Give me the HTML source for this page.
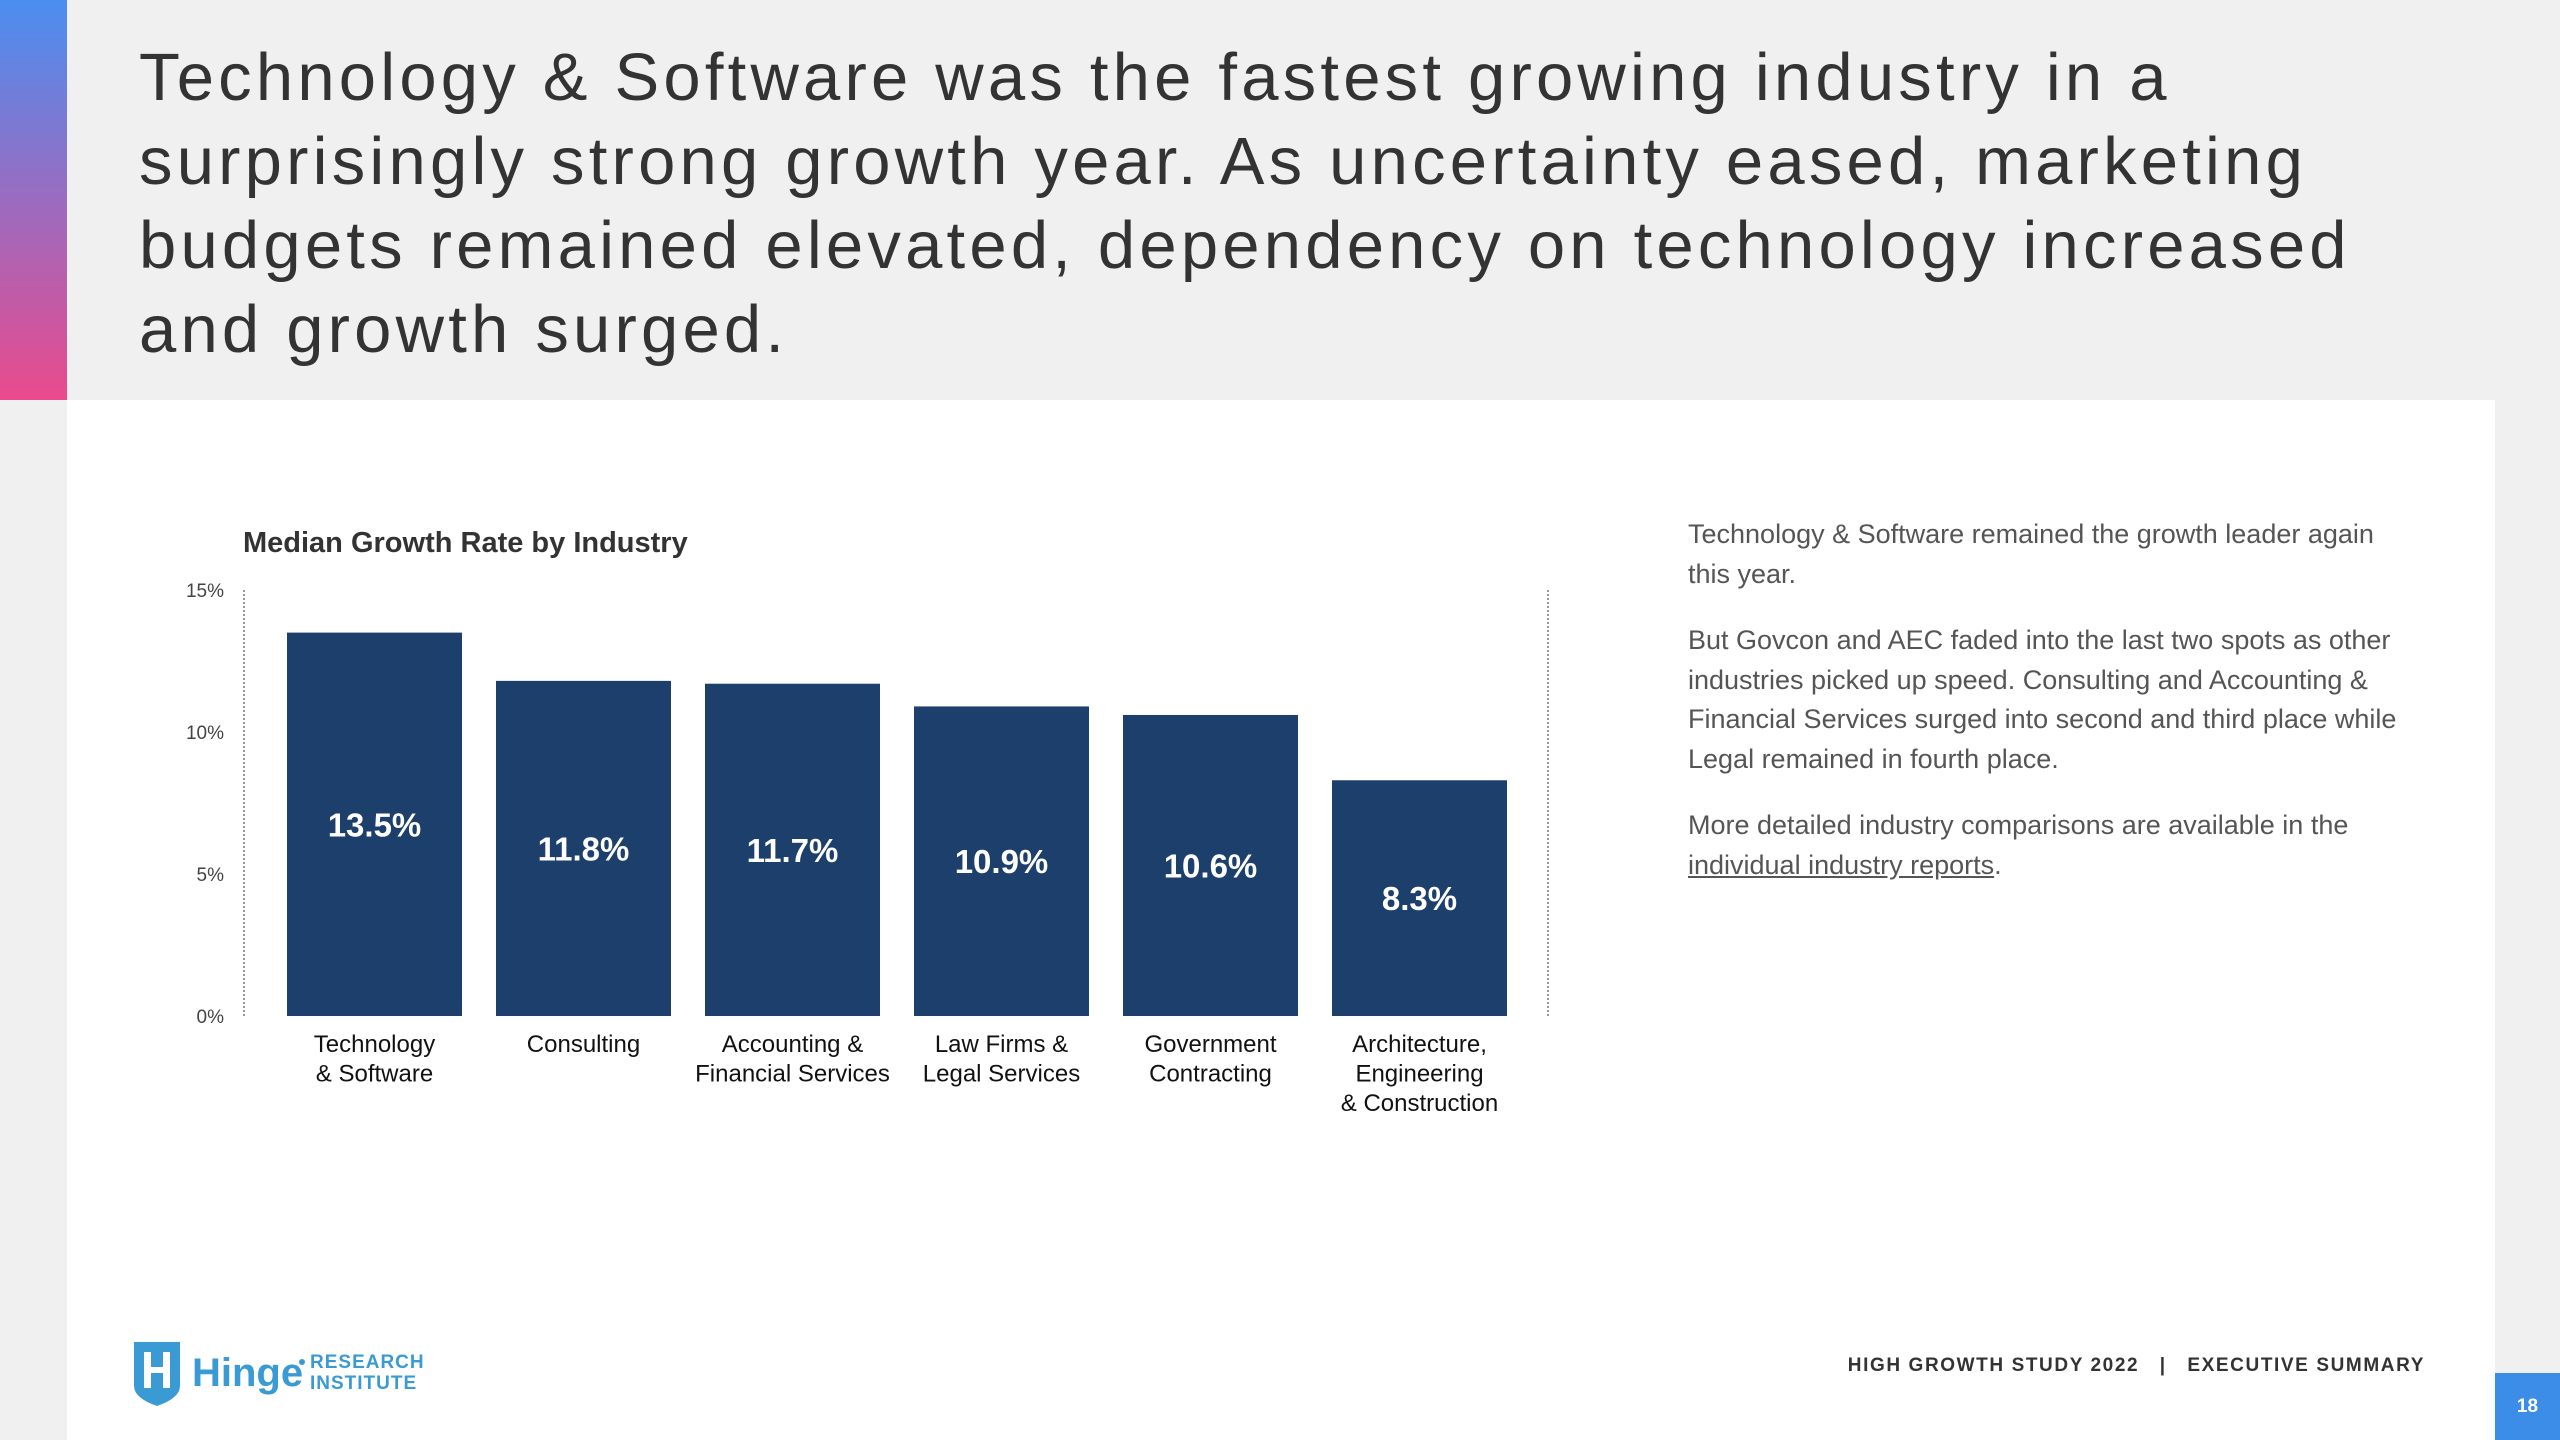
<!DOCTYPE html>
<html><head><meta charset="utf-8"><style>
*{margin:0;padding:0;box-sizing:border-box}
body{width:2560px;height:1440px;background:#f0f0f0;position:relative;overflow:hidden;font-family:"Liberation Sans",sans-serif}
.abs{position:absolute}
#headline{left:139px;top:36px;font-size:67px;line-height:84px;color:#333;letter-spacing:4.2px;white-space:nowrap}
#panel{left:67px;top:400px;width:2428px;height:1040px;background:#fff}
#grad{left:0;top:0;width:67px;height:400px;background:linear-gradient(#4a8ef0,#9a6cc0 50%,#ea4a8c)}
#side p{font-size:27px;line-height:39.5px;color:#555;margin-bottom:27px}
</style></head><body>
<div class="abs" id="grad"></div>
<div class="abs" id="headline">Technology &amp; Software was the fastest growing industry in a<br>surprisingly strong growth year. As uncertainty eased, marketing<br>budgets remained elevated, dependency on technology increased<br>and growth surged.</div>
<div class="abs" id="panel"></div>
<svg class="abs" style="left:0;top:0" width="2560" height="1440" id="chart"></svg>
<div class="abs" id="side" style="left:1688px;top:515px;width:740px">
<p>Technology &amp; Software remained the growth leader again<br>this year.</p>
<p>But Govcon and AEC faded into the last two spots as other industries picked up speed. Consulting and Accounting &amp; Financial Services surged into second and third place while Legal remained in fourth place.</p>
<p>More detailed industry comparisons are available in the <span style="text-decoration:underline">individual industry reports</span>.</p>
</div>
<div class="abs" style="left:132px;top:1338px;width:300px;height:70px">
<svg width="300" height="70"><path d="M2 4 H48 V48 Q48 60 25 68 Q2 60 2 48 Z" fill="#3a9ad4"/><rect x="12" y="14" width="7" height="36" fill="#fff"/><rect x="31" y="14" width="7" height="36" fill="#fff"/><rect x="12" y="29" width="26" height="6" fill="#fff"/>
<text x="60" y="48" font-size="40" font-weight="bold" fill="#3a9ad4" font-family="Liberation Sans">Hinge</text><circle cx="170" cy="24" r="3" fill="#3a9ad4"/>
<text x="178" y="30" font-size="19" font-weight="bold" fill="#3a9ad4" letter-spacing="1">RESEARCH</text><text x="178" y="51" font-size="19" font-weight="bold" fill="#3a9ad4" letter-spacing="1">INSTITUTE</text></svg></div>
<div class="abs" style="right:135px;top:1355px;font-size:19px;font-weight:bold;color:#333;letter-spacing:1.6px">HIGH GROWTH STUDY 2022 &nbsp;&nbsp;| &nbsp;&nbsp;EXECUTIVE SUMMARY</div>
<div class="abs" style="left:2495px;top:1373px;width:65px;height:67px;background:#3b8de8;color:#fff;font-size:19px;font-weight:bold;text-align:center;line-height:67px">18</div>
<script>
const categories=[["Technology","& Software"],["Consulting"],["Accounting &","Financial Services"],["Law Firms &","Legal Services"],["Government","Contracting"],["Architecture,","Engineering","& Construction"]];
const values=[13.5,11.8,11.7,10.9,10.6,8.3];
const ticks=[0,5,10,15];
const NS="http://www.w3.org/2000/svg";
const svg=document.getElementById('chart');
const y0=1016,pxPer=28.4;
const y=v=>y0-v*pxPer;
const x=i=>287+i*209;
const bw=175;
function mk(t,a,txt){const e=document.createElementNS(NS,t);for(const k in a)e.setAttribute(k,a[k]);if(txt!==undefined)e.textContent=txt;svg.appendChild(e);return e;}
let t=mk('text',{x:243,y:552,'font-size':29,'font-weight':'bold',fill:'#333'},'Median Growth Rate by Industry');


let ax=mk('line',{x1:244,y1:y(15),x2:244,y2:y0,stroke:'#999','stroke-width':2,'stroke-dasharray':'2 2'});


let rl=mk('line',{x1:1548,y1:y(15),x2:1548,y2:y0,stroke:'#999','stroke-width':2,'stroke-dasharray':'2 2'});


ticks.forEach(v=>{const e=mk('text',{x:224,y:y(v)+7,'font-size':19,fill:'#444','text-anchor':'end'},v+'%');

});
values.forEach((v,i)=>{
const r=mk('rect',{x:x(i),y:y(v),width:bw,height:y0-y(v),fill:'#1d3f6b'});


const l=mk('text',{x:x(i)+bw/2,y:(y(v)+y0)/2+12,'font-size':33,'font-weight':'bold',fill:'#fff','text-anchor':'middle'},v.toFixed(1)+'%');


categories[i].forEach((s,j)=>{const c=mk('text',{x:x(i)+bw/2,y:1052+j*29.5,'font-size':24,fill:'#111','text-anchor':'middle'},s);

});
});
</script>
</body></html>
